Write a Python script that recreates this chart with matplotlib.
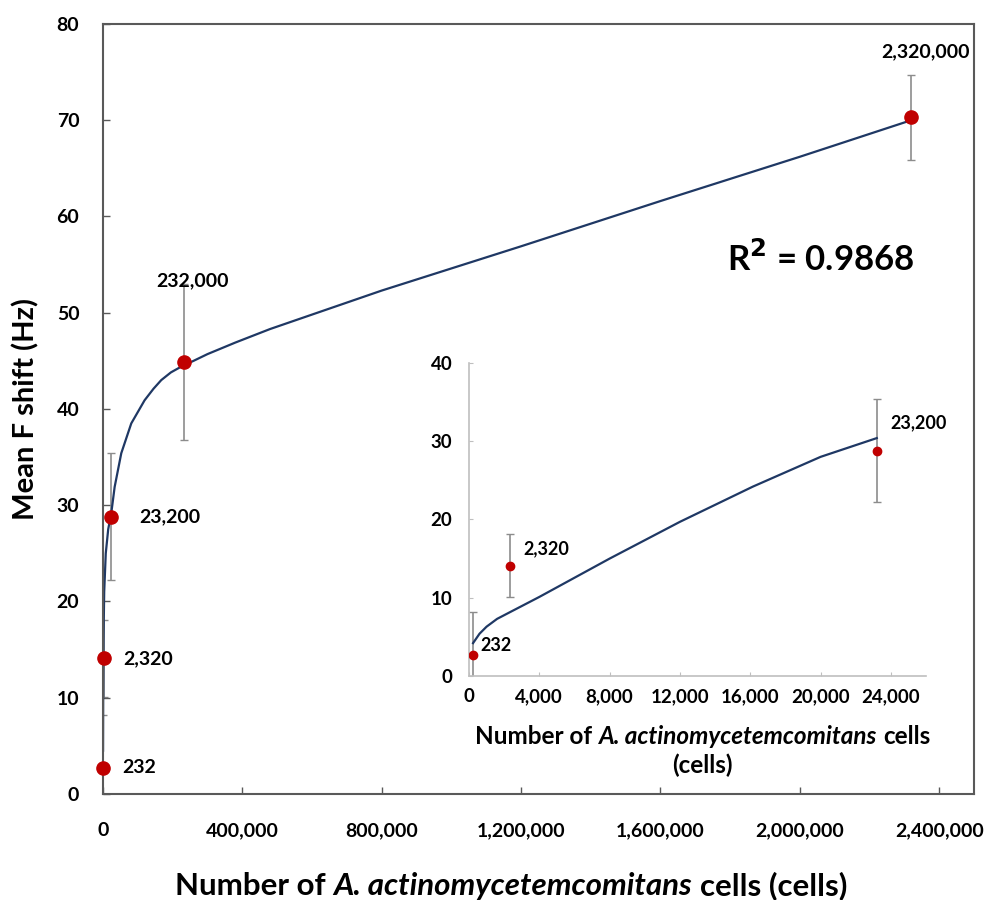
import numpy as np
import matplotlib.pyplot as plt
from matplotlib.ticker import FuncFormatter
from matplotlib.offsetbox import TextArea, HPacker, VPacker, AnnotationBbox

plt.rcParams['font.family'] = ['Lato', 'DejaVu Sans']
plt.rcParams['font.weight'] = 'bold'

# measured points
cells = [232, 2320, 23200, 232000, 2320000]
shift = [2.7, 14.1, 28.8, 44.9, 70.3]
err = [5.5, 4.0, 6.6, 8.1, 4.4]
labels = ["232", "2,320", "23,200", "232,000", "2,320,000"]

# trend curve, main chart
fit_x = [232, 600, 1500, 3500, 8000, 15000, 23900, 33500, 52500, 81200, 119400,
         145000, 167300, 195000, 224700, 260000, 300000, 380000, 479300, 800000,
         1200000, 1600000, 2000000, 2320000]
fit_y = [4.5, 10.0, 16.0, 21.0, 25.0, 27.5, 29.2, 31.9, 35.4, 38.5, 40.9,
         42.1, 43.0, 43.8, 44.4, 45.0, 45.7, 46.9, 48.3, 52.3,
         56.9, 61.6, 66.2, 70.0]

# inset: first three concentrations
in_cells = cells[:3]
in_shift = shift[:3]
in_err = err[:3]
in_labels = labels[:3]
in_fit_x = [232, 600, 1000, 1600, 2370, 4000, 8000, 12000, 16150, 20000, 23200]
in_fit_y = [4.2, 5.4, 6.3, 7.3, 8.2, 10.1, 15.0, 19.7, 24.2, 28.0, 30.4]

red = '#C00000'
navy = '#1F3864'
grey = '#8C8C8C'
thousands = FuncFormatter(lambda v, p: f"{int(v):,}")


def species_line(size, tail):
    # "Number of A. actinomycetemcomitans <tail>" with the name in italics
    up = dict(fontsize=size, fontweight='bold')
    it = dict(fontsize=size, fontweight='bold', fontstyle='italic')
    parts = [TextArea("Number of", textprops=up),
             TextArea("A. actinomycetemcomitans", textprops=it),
             TextArea(tail, textprops=up)]
    return HPacker(children=parts, align='baseline', pad=0, sep=size * 0.25)


fig = plt.figure(figsize=(9.94, 9.0), dpi=100)

# ---- main chart ----
ax = fig.add_axes([0.1036, 0.1178, 0.8763, 0.8556])
ax.plot(fit_x, fit_y, color=navy, lw=1.6, zorder=2)
ax.errorbar(cells, shift, yerr=err, fmt='none', ecolor=grey, elinewidth=1.2,
            capsize=3, capthick=1, zorder=1)
ax.plot(cells, shift, 'o', color=red, ms=9.5, zorder=3, clip_on=False)
ax.set_xlim(0, 2500000)
ax.set_ylim(0, 80)
ax.set_xticks(np.arange(0, 2400001, 400000))
ax.set_yticks(np.arange(0, 81, 10))
ax.xaxis.set_major_formatter(thousands)
ax.tick_params(direction='in', length=5, width=1, color='#595959', labelsize=14)
ax.tick_params(axis='x', pad=20)
ax.tick_params(axis='y', pad=17)
for s in ax.spines.values():
    s.set_color('#595959')
    s.set_linewidth(1.5)
ax.set_ylabel("Mean F shift (Hz)", fontsize=21, fontweight='bold', labelpad=12)

xlab = AnnotationBbox(species_line(22.5, "cells (cells)"), (0.514, 0.016),
                      xycoords='figure fraction', frameon=False,
                      box_alignment=(0.5, 0.5))
fig.add_artist(xlab)

offsets = [(14, 0, 'left', 'center'), (14, 0, 'left', 'center'),
           (20, 0, 'left', 'center'), (6, 58, 'center', 'center'),
           (10, 47, 'center', 'center')]
for x, y, t, (dx, dy, ha, va) in zip(cells, shift, labels, offsets):
    ax.annotate(t, (x, y), xytext=(dx, dy), textcoords='offset points',
                ha=ha, va=va, fontsize=14, fontweight='bold')

ax.text(0.716, 0.695, "R$^{2}$ = 0.9868", transform=ax.transAxes,
        fontsize=25, fontweight='bold', ha='left', va='center')

# ---- inset ----
ins = fig.add_axes([0.4718, 0.2489, 0.4598, 0.3478])
ins.plot(in_fit_x, in_fit_y, color=navy, lw=1.6, zorder=2)
ins.errorbar(in_cells, in_shift, yerr=in_err, fmt='none', ecolor=grey,
             elinewidth=1.2, capsize=3, capthick=1, zorder=1)
ins.plot(in_cells, in_shift, 'o', color=red, ms=6, zorder=3)
ins.set_xlim(0, 26000)
ins.set_ylim(0, 40)
ins.set_xticks(np.arange(0, 24001, 4000))
ins.set_yticks(np.arange(0, 41, 10))
ins.xaxis.set_major_formatter(thousands)
ins.tick_params(direction='in', length=3, color='#BFBFBF', labelsize=13.5)
ins.tick_params(axis='x', pad=9)
ins.tick_params(axis='y', pad=12)
for side in ['top', 'right']:
    ins.spines[side].set_visible(False)
for side in ['left', 'bottom']:
    ins.spines[side].set_color('#BFBFBF')
    ins.spines[side].set_linewidth(1.2)
ins.patch.set_alpha(0)

in_lab = VPacker(children=[species_line(17.5, "cells"),
                           TextArea("(cells)", textprops=dict(fontsize=17.5, fontweight='bold'))],
                 align='center', pad=0, sep=4)
fig.add_artist(AnnotationBbox(in_lab, (0.707, 0.1655), xycoords='figure fraction',
                              frameon=False, box_alignment=(0.5, 0.5)))

in_offsets = [(5, 7, 'left', 'center'), (10, 12, 'left', 'center'),
              (10, 20, 'left', 'center')]
for x, y, t, (dx, dy, ha, va) in zip(in_cells, in_shift, in_labels, in_offsets):
    ins.annotate(t, (x, y), xytext=(dx, dy), textcoords='offset points',
                 ha=ha, va=va, fontsize=13, fontweight='bold')

fig.savefig("out.png", dpi=100)
